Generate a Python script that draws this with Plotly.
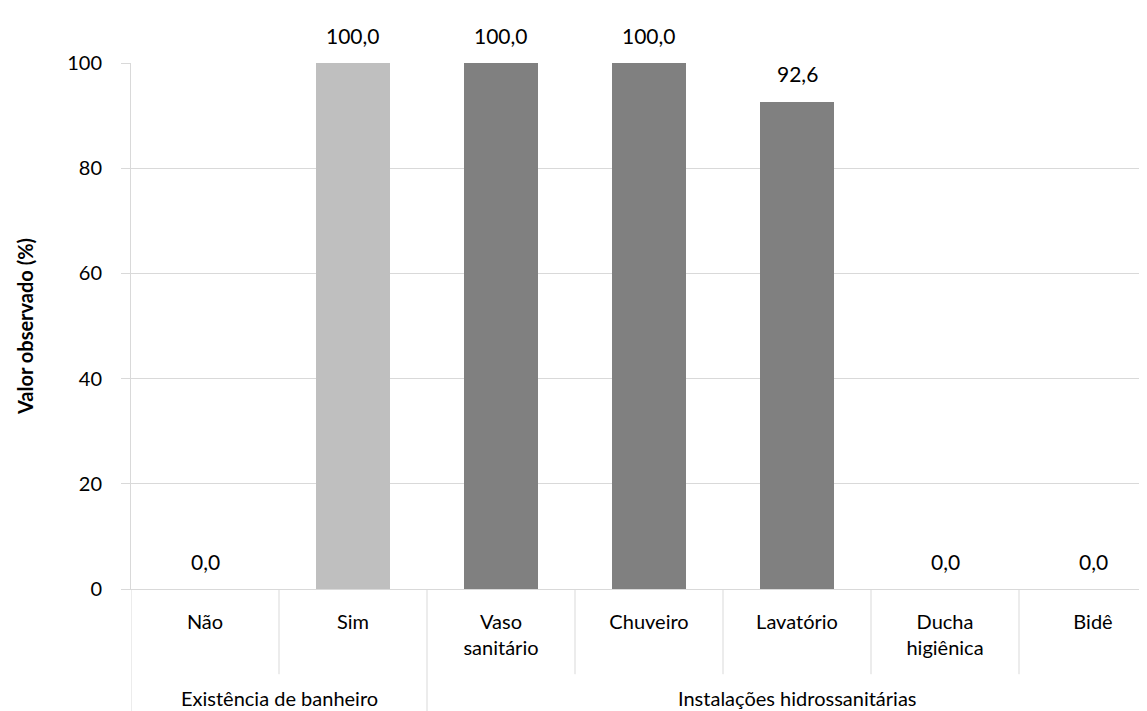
import plotly.graph_objects as go

categorias = ["Não", "Sim", "Vaso sanitário", "Chuveiro", "Lavatório", "Ducha higiênica", "Bidê"]
rotulos = ["Não", "Sim", "Vaso<br>sanitário", "Chuveiro", "Lavatório", "Ducha<br>higiênica", "Bidê"]
valores = [0.0, 100.0, 100.0, 100.0, 92.6, 0.0, 0.0]
cores = ["#bfbfbf", "#bfbfbf", "#808080", "#808080", "#808080", "#808080", "#808080"]
grupos = [("Existência de banheiro", 0, 1), ("Instalações hidrossanitárias", 2, 6)]

FONTE = "Lato"
TAM = 20
COR_LINHA = "#d9d9d9"
fig = go.Figure()

fig.add_trace(go.Bar(
    x=list(range(len(categorias))), y=valores,
    marker=dict(color=cores, line=dict(width=0)),
    width=0.5, hovertext=categorias, showlegend=False,
))

# rótulos de dados acima das barras (vírgula decimal)
for i, v in enumerate(valores):
    fig.add_annotation(x=i, y=v, text=f"{v:.1f}".replace(".", ","),
                       showarrow=False, yanchor="middle", yshift=28,
                       font=dict(family=FONTE, size=21, color="#000000"))

# linhas divisórias do eixo de categorias
for i in range(len(categorias)):
    borda = i - 0.5
    externa = any(borda == ini - 0.5 for _, ini, _ in grupos)
    fig.add_shape(type="line", xref="x", yref="paper", x0=borda, x1=borda,
                  y0=0, y1=-0.26 if externa else -0.162,
                  line=dict(color=COR_LINHA, width=1))

for nome, ini, fim in grupos:
    fig.add_annotation(x=(ini + fim) / 2, xref="x", y=-0.208, yref="paper",
                       text=nome, showarrow=False, yanchor="middle",
                       font=dict(family=FONTE, size=TAM, color="#000000"))

fig.update_layout(
    width=1147, height=711,
    margin=dict(l=123, r=0, t=55, b=130),
    plot_bgcolor="white", paper_bgcolor="white",
    font=dict(family=FONTE, size=TAM, color="#000000"),
)
fig.update_xaxes(
    range=[-0.5, -0.5 + 1024 / 148],
    tickmode="array", tickvals=list(range(len(categorias))), ticktext=rotulos,
    showgrid=False, zeroline=False, showline=True, linecolor=COR_LINHA,
    ticks="", ticklabelstandoff=15,
    tickfont=dict(family=FONTE, size=TAM, color="#000000"),
)
fig.update_yaxes(
    range=[0, 100], dtick=20,
    showgrid=True, gridcolor=COR_LINHA, zeroline=False,
    showline=True, linecolor=COR_LINHA,
    ticks="outside", ticklen=9, tickcolor=COR_LINHA, ticklabelstandoff=15,
    tickfont=dict(family=FONTE, size=TAM, color="#000000"),
    title=dict(text="<b>Valor observado (%)</b>", standoff=28,
               font=dict(family=FONTE, size=20, color="#000000")),
)
fig.update_traces(cliponaxis=False)

fig.write_html("out.html")
